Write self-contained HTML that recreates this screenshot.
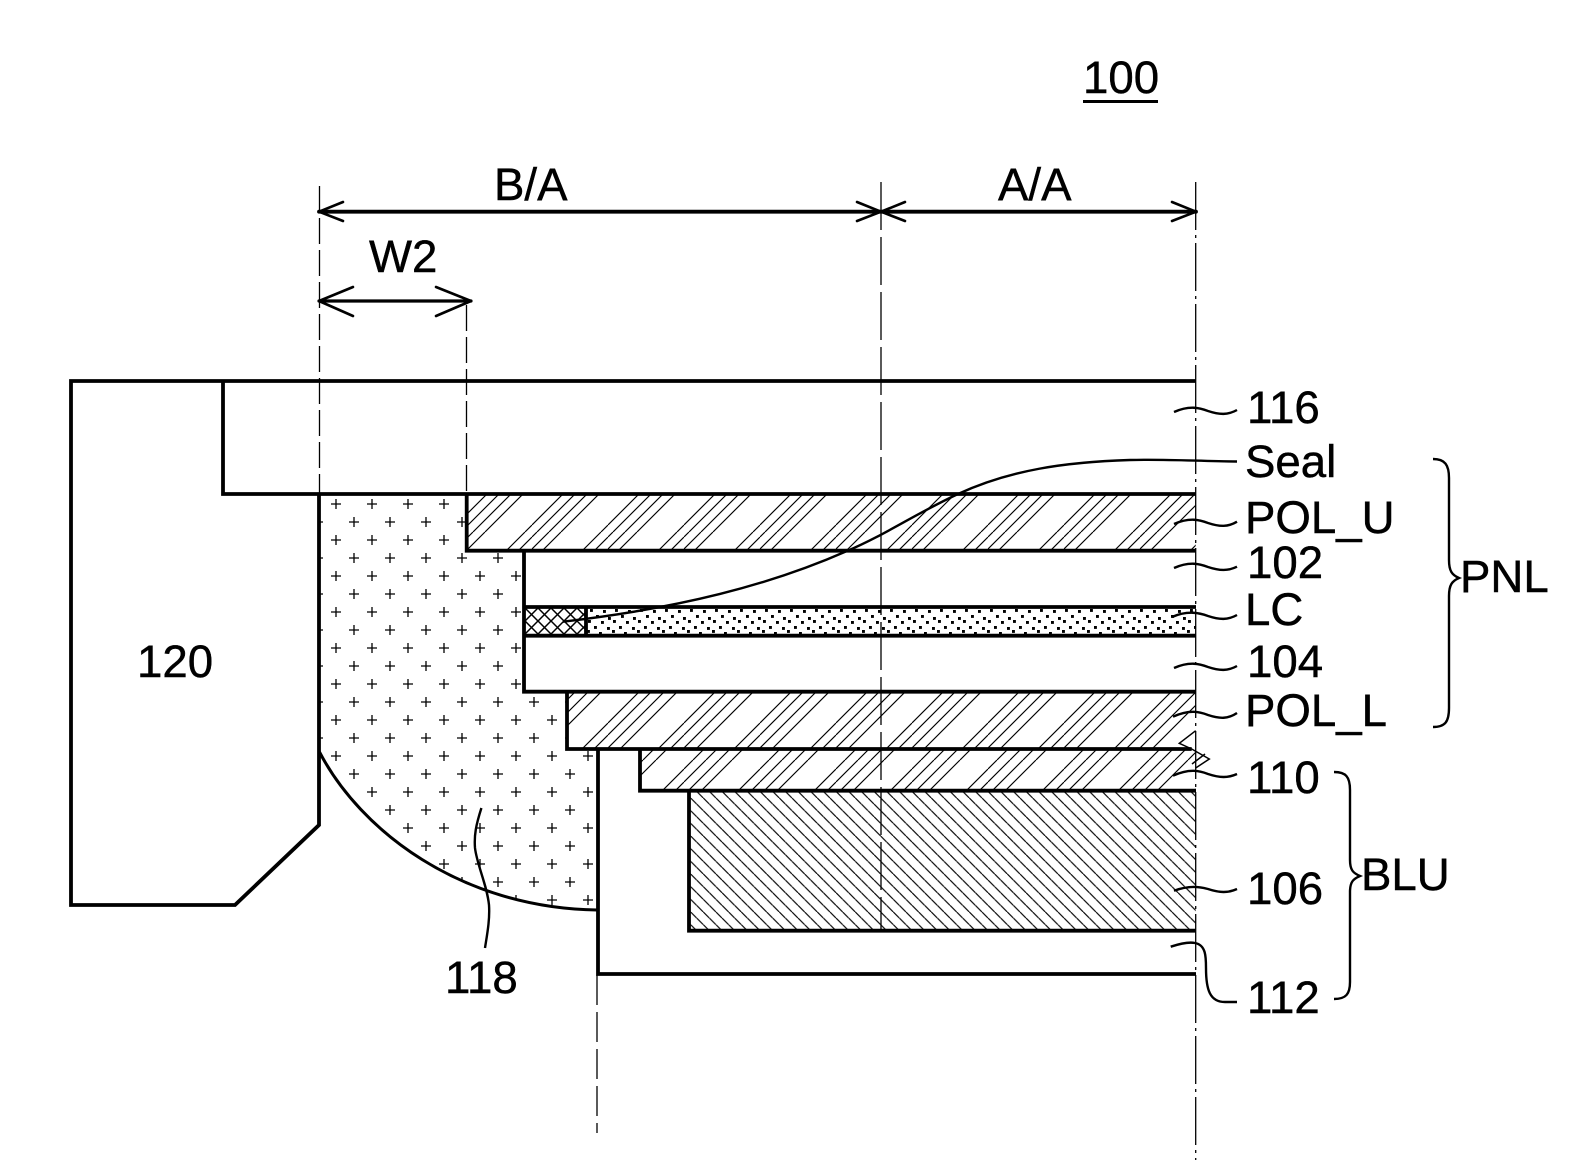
<!DOCTYPE html>
<html><head><meta charset="utf-8"><style>
html,body{margin:0;padding:0;background:#fff}
svg{display:block}
text{font-family:"Liberation Sans",sans-serif;font-size:45.6px;fill:#000;stroke:#000;stroke-width:.45}
</style></head><body>
<svg width="1582" height="1166" viewBox="0 0 1582 1166" xmlns="http://www.w3.org/2000/svg">
<defs>
<pattern id="hU" patternUnits="userSpaceOnUse" width="76" height="76">
<g stroke="#000" stroke-width="1.15"><path d="M69 0L0 69M76 69L69 76M5 0L0 5M76 5L5 76M17 0L0 17M76 17L17 76M29 0L0 29M76 29L29 76"/></g>
</pattern>
<pattern id="hL" patternUnits="userSpaceOnUse" width="76" height="76">
<g stroke="#000" stroke-width="1.15"><path d="M39 0L0 39M76 39L39 76M51 0L0 51M76 51L51 76M64 0L0 64M76 64L64 76M1 0L0 1M76 1L1 76"/></g>
</pattern>
<pattern id="h110" patternUnits="userSpaceOnUse" width="76" height="76">
<g stroke="#000" stroke-width="1.15"><path d="M9 0L0 9M76 9L9 76M22 0L0 22M76 22L22 76M35 0L0 35M76 35L35 76M48 0L0 48M76 48L48 76"/></g>
</pattern>
<pattern id="h106" patternUnits="userSpaceOnUse" width="12.667" height="12.667">
<path d="M6.63 0L12.667 6.04M0 6.04L6.63 12.667" stroke="#000" stroke-width="1.15"/>
</pattern>
<pattern id="xh" patternUnits="userSpaceOnUse" width="13" height="13" patternTransform="translate(525 608)">
<path d="M0 0L13 13M13 0L0 13" stroke="#000" stroke-width="1.5"/>
</pattern>
<pattern id="dots" patternUnits="userSpaceOnUse" width="25" height="28" patternTransform="translate(586 608)">
<g fill="#000">
<rect x="4" y="1" width="2.9" height="2.9"/><rect x="17" y="2" width="2.9" height="2.9"/>
<rect x="10" y="7" width="2.9" height="2.9"/><rect x="22" y="9" width="2.9" height="2.9"/>
<rect x="2" y="12" width="2.9" height="2.9"/><rect x="15" y="13" width="2.9" height="2.9"/>
<rect x="8" y="18" width="2.9" height="2.9"/><rect x="21" y="19" width="2.9" height="2.9"/>
<rect x="1" y="22" width="2.9" height="2.9"/><rect x="13" y="24" width="2.9" height="2.9"/>
</g>
</pattern>
<pattern id="plus" patternUnits="userSpaceOnUse" width="36" height="36" patternTransform="translate(327 495)">
<path d="M4 9H14M9 4V14M22 27H32M27 22V32" stroke="#000" stroke-width="1.3"/>
</pattern>
</defs>
<rect width="1582" height="1166" fill="#fff"/>

<!-- fills -->
<path d="M319 494H466.7V550.7H524V691.7H567V749H598V910C460 908 360 830 319 752Z" fill="url(#plus)"/>
<rect x="466.7" y="494" width="729" height="56.7" fill="url(#hU)"/>
<path d="M567 691.7H1195.7V730.7L1179.3 743.3L1191.7 749H567Z" fill="url(#hL)"/>
<path d="M640 749H1191.7L1209.3 759L1195.7 768V790.7H640Z" fill="url(#h110)"/>
<rect x="689" y="790.7" width="506.7" height="140" fill="url(#h106)"/>
<rect x="524" y="607" width="62" height="28.7" fill="url(#xh)"/>
<rect x="586" y="607" width="609.7" height="28.7" fill="url(#dots)"/>

<!-- dashed centre lines -->
<g fill="none" stroke="#000" stroke-width="1.3">
<path d="M319.5 186V494" stroke-dasharray="26 6"/>
<path d="M466.5 305V494" stroke-dasharray="26 6"/>
<path d="M881 182V931" stroke-dasharray="48 7"/>
<path d="M1195.7 182V1160" stroke-dasharray="48 5 3 5"/>
<path d="M597 975V1133" stroke-dasharray="30 7"/>
</g>

<!-- structure lines -->
<g fill="none" stroke="#000" stroke-width="3.8" stroke-linejoin="miter">
<path d="M1196 381H71V905H235L319 825V494"/>
<path d="M223 381V494H1196"/>
<path d="M466.7 494V550.7H1196"/>
<path d="M524 550.7V691.7H1196"/>
<path d="M524 607H1196M524 635.7H1196M586 607V635.7"/>
<path d="M567 691.7V749H1191.7"/>
<path d="M640 749V790.7H1196"/>
<path d="M689 790.7V930.7H1196"/>
<path d="M598 749V974H1196"/>
</g>
<path d="M319.5 752C360 830 460 908 597 910" fill="none" stroke="#000" stroke-width="3"/>

<!-- break marks -->
<g fill="none" stroke="#000" stroke-width="1.5">
<path d="M1195.7 730.7L1179.3 743.3L1191.7 749L1209.3 759L1195.7 768"/>
<path d="M1205 754L1192 764"/>
</g>

<!-- dimension arrows -->
<g fill="none" stroke="#000" stroke-linejoin="round" stroke-linecap="round">
<path d="M319 211.7H1196" stroke-width="3.8"/>
<path d="M343 202L319 211.7L343 221M857 202L881 211.7L905 202M857 221L881 211.7L905 221M1172 202L1196 211.7L1172 221" stroke-width="2.6"/>
<path d="M319 301H471" stroke-width="3.2"/>
<path d="M353 287L319 301L353 316M436 287L471 301L436 316" stroke-width="2.6"/>
</g>

<!-- leaders -->
<g fill="none" stroke="#000" stroke-width="2.4">
<path d="M1174 412C1190 405 1200 408 1208 411C1220 415 1228 415 1237 410"/>
<path d="M1174 524C1190 517 1200 520 1208 523C1220 527 1228 527 1237 521.7"/>
<path d="M1174 568C1190 561 1200 564 1208 567C1220 571 1228 571 1237 566.7"/>
<path d="M1172 617C1188 610 1200 613 1208 616C1220 620 1228 620 1237 615"/>
<path d="M1174 668C1190 661 1200 664 1208 667C1220 671 1228 671 1237 666"/>
<path d="M1173 716.7C1190 709 1200 712 1208 715C1220 719 1228 719 1237 713"/>
<path d="M1173 775.7C1190 768 1200 771 1208 774C1220 778 1228 778 1237 774"/>
<path d="M1174 890.7C1190 885 1200 887 1208 889C1220 893 1228 893 1237 889"/>
<path d="M1170.7 946.7C1182 943 1190 942 1195 943C1206 945 1206 957 1206 968C1206 990 1210 1002 1225 1002H1237"/>
<path d="M481.4 808C476 825 474 835 475 848C477 865 487 885 489 905C490 920 487 935 485 948"/>
<path d="M1237 461.5C1195 461 1165 459 1130 460C1065 462 1010 470 958 494C915 514 885 535 847 551C770 585 680 608 563 621.7"/>
</g>

<!-- braces -->
<g fill="none" stroke="#000" stroke-width="2.4">
<path d="M1433 459C1445 459 1449 465 1449 478V560C1449 571 1452 575 1459 578C1452 581 1449 585 1449 596V708C1449 722 1445 727 1433 727"/>
<path d="M1334 772C1346 772 1350 777 1350 790V860C1350 870 1353 873 1360 876C1353 879 1350 882 1350 892V982C1350 994 1346 999 1334 999"/>
</g>

<!-- labels -->
<text x="1083" y="93">100</text>
<rect x="1083" y="100" width="75" height="3" fill="#000"/>
<text x="494" y="200">B/A</text>
<text x="998" y="200">A/A</text>
<text x="369" y="272">W2</text>
<text x="137" y="677">120</text>
<text x="1247" y="423">116</text>
<text x="1245" y="477">Seal</text>
<text x="1245" y="533">POL_U</text>
<text x="1247" y="578">102</text>
<text x="1245" y="625">LC</text>
<text x="1247" y="677">104</text>
<text x="1245" y="726">POL_L</text>
<text x="1247" y="793">110</text>
<text x="1247" y="904">106</text>
<text x="1247" y="1013">112</text>
<text x="1460" y="592">PNL</text>
<text x="1361" y="890">BLU</text>
<text x="445" y="993">118</text>
</svg>
</body></html>
